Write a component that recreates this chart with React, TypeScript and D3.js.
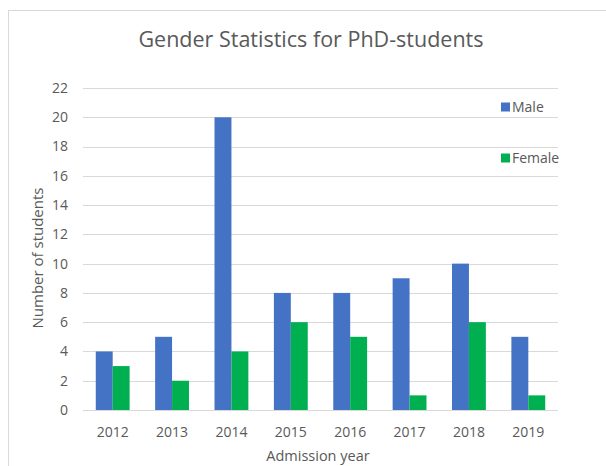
import React, { useEffect, useRef } from 'react';
import * as d3 from 'd3';

const years = ['2012', '2013', '2014', '2015', '2016', '2017', '2018', '2019'];
const male = [4, 5, 20, 8, 8, 9, 10, 5];
const female = [3, 2, 4, 6, 5, 1, 6, 1];
const yTicks = [0, 2, 4, 6, 8, 10, 12, 14, 16, 18, 20, 22];
const seriesNames = ['Male', 'Female'];

const W = 606;
const H = 466;
const colors = ['#4472C4', '#00B050'];
const textColor = '#595959';
const font = '"Open Sans", "Liberation Sans", sans-serif';

const App: React.FC = () => {
  const svgRef = useRef<SVGSVGElement>(null);

  useEffect(() => {
    if (!svgRef.current) return;
    const svg = d3.select(svgRef.current);
    svg.selectAll('*').remove();

    const plot = { left: 83, right: 558, top: 88, bottom: 410 };

    // chart area frame
    svg.append('rect')
      .attr('x', 8.5).attr('y', 10.5)
      .attr('width', W + 20).attr('height', H + 20)
      .attr('fill', '#fff')
      .attr('stroke', '#d9d9d9');

    const x = d3.scaleBand<string>()
      .domain(years)
      .range([plot.left, plot.right])
      .paddingInner(0)
      .paddingOuter(0);

    const y = d3.scaleLinear().domain([0, 22]).range([plot.bottom, plot.top]);

    const barW = x.bandwidth() * 0.285;

    // gridlines
    svg.append('g')
      .selectAll('line')
      .data(yTicks)
      .enter().append('line')
      .attr('x1', plot.left)
      .attr('x2', plot.right)
      .attr('y1', d => Math.round(y(d)) + 0.5)
      .attr('y2', d => Math.round(y(d)) + 0.5)
      .attr('stroke', '#d9d9d9')
      .attr('stroke-width', 1);

    // y tick labels
    svg.append('g')
      .selectAll('text')
      .data(yTicks)
      .enter().append('text')
      .attr('x', 68)
      .attr('y', d => y(d))
      .attr('dy', '0.35em')
      .attr('text-anchor', 'end')
      .attr('font-family', font)
      .attr('font-size', 14)
      .attr('fill', textColor)
      .text(d => d);

    // bars
    const series = [male, female];
    series.forEach((vals, si) => {
      svg.append('g')
        .selectAll('rect')
        .data(vals)
        .enter().append('rect')
        .attr('x', (d, i) => (x(years[i]) ?? 0) + x.bandwidth() / 2 - barW + si * barW)
        .attr('y', d => y(d))
        .attr('width', barW)
        .attr('height', d => y(0) - y(d))
        .attr('fill', colors[si]);
    });

    // x tick labels
    svg.append('g')
      .selectAll('text')
      .data(years)
      .enter().append('text')
      .attr('x', d => (x(d) ?? 0) + x.bandwidth() / 2)
      .attr('y', 437)
      .attr('text-anchor', 'middle')
      .attr('font-family', font)
      .attr('font-size', 14)
      .attr('fill', textColor)
      .text(d => d);

    // title
    svg.append('text')
      .attr('x', 311)
      .attr('y', 47)
      .attr('text-anchor', 'middle')
      .attr('font-family', font)
      .attr('font-size', 21.5)
      .attr('fill', textColor)
      .text('Gender Statistics for PhD-students');

    // axis titles
    svg.append('text')
      .attr('x', 318)
      .attr('y', 461)
      .attr('text-anchor', 'middle')
      .attr('font-family', font)
      .attr('font-size', 14.5)
      .attr('fill', textColor)
      .text('Admission year');

    svg.append('text')
      .attr('transform', 'translate(43,258) rotate(-90)')
      .attr('text-anchor', 'middle')
      .attr('font-family', font)
      .attr('font-size', 15)
      .attr('fill', textColor)
      .text('Number  of students');

    // legend
    const legendY = [107, 158];
    seriesNames.forEach((name, i) => {
      const g = svg.append('g').attr('transform', `translate(501,${legendY[i]})`);
      g.append('rect')
        .attr('x', 0).attr('y', -4.5)
        .attr('width', 9).attr('height', 9)
        .attr('fill', colors[i]);
      g.append('text')
        .attr('x', 11)
        .attr('y', 0)
        .attr('dy', '0.35em')
        .attr('font-family', font)
        .attr('font-size', 14)
        .attr('fill', textColor)
        .text(name);
    });
  }, []);

  return (
    <svg
      ref={svgRef}
      width={W}
      height={H}
      style={{ position: 'absolute', left: 0, top: 0, background: '#fff' }}
    />
  );
};

export default App;
